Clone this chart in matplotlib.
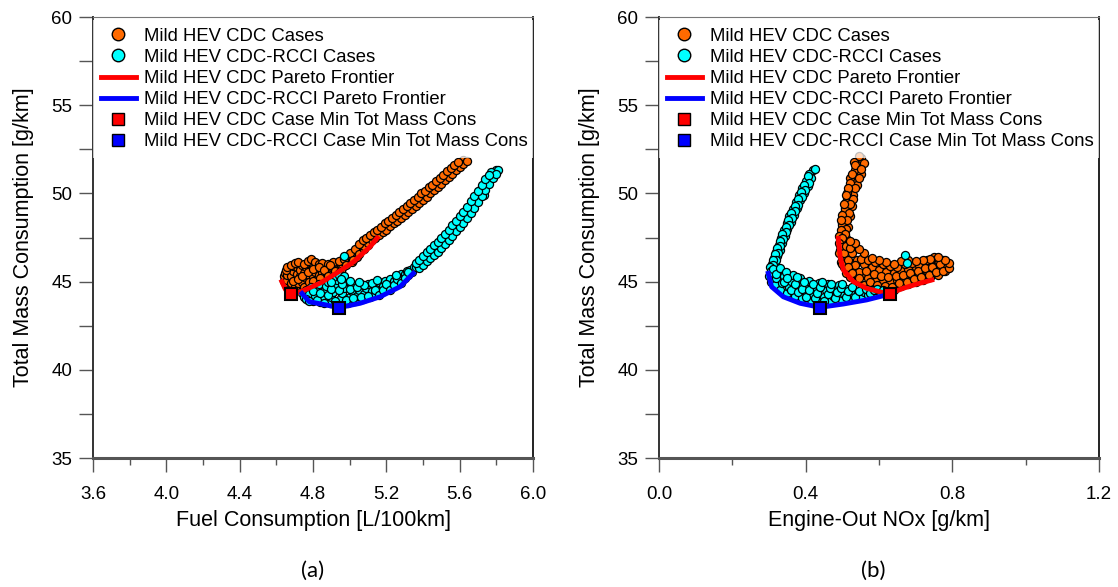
import numpy as np
import matplotlib.pyplot as plt
from matplotlib.lines import Line2D
from matplotlib.ticker import MultipleLocator, FormatStrFormatter

plt.rcParams['font.family'] = ['Liberation Sans', 'DejaVu Sans']

# ---- (a) fuel consumption [L/100km] vs total mass consumption [g/km] ----
cdc_fc_cloud = [
    (4.64, 45.05), (4.64, 45.3), (4.645, 45.5), (4.65, 44.8), (4.66, 45.1), (4.66, 45.4),
    (4.67, 44.6), (4.67, 45.7), (4.68, 44.9), (4.68, 45.3), (4.69, 45.6), (4.69, 45.9),
    (4.70, 44.7), (4.70, 45.1), (4.71, 45.45), (4.71, 45.8), (4.72, 44.9), (4.72, 46.0),
    (4.73, 45.3), (4.73, 45.65), (4.74, 45.0), (4.74, 45.95), (4.75, 45.5), (4.75, 44.7),
    (4.76, 45.2), (4.76, 45.8), (4.77, 46.05), (4.78, 45.4), (4.78, 44.95), (4.79, 45.65),
    (4.79, 46.25), (4.80, 45.3), (4.80, 45.9), (4.81, 45.55), (4.82, 46.0), (4.82, 45.15),
    (4.83, 45.35), (4.84, 45.75), (4.85, 45.5), (4.86, 45.95), (4.86, 45.15), (4.87, 45.6),
    (4.88, 45.85), (4.89, 45.55), (4.90, 46.0), (4.90, 45.45), (4.91, 45.75), (4.92, 46.05),
    (4.93, 45.8), (4.94, 46.0), (4.95, 45.95), (4.96, 46.2), (4.96, 45.75), (4.97, 46.1),
    (4.98, 46.35), (4.99, 46.3), (5.00, 46.5), (5.01, 46.45), (5.02, 46.6), (5.03, 46.7),
    (5.04, 46.8), (5.05, 46.9), (5.06, 47.05),
    (4.65, 45.65), (4.66, 45.85), (4.68, 45.95), (4.70, 46.05), (4.72, 46.1), (4.75, 46.0),
    (4.77, 46.15), (4.79, 46.3), (4.81, 46.1), (4.83, 46.0), (4.85, 46.05), (4.88, 46.0),
    (4.91, 46.1), (4.94, 46.15), (4.97, 46.3), (5.00, 46.6), (5.03, 46.85), (4.69, 45.05),
    (4.72, 45.15), (4.74, 45.3), (4.77, 45.55), (4.80, 45.7), (4.83, 45.85), (4.86, 45.65),
    (4.89, 45.95), (4.92, 45.6), (4.95, 45.6), (4.98, 45.95), (5.01, 46.1), (5.04, 46.4),
    (4.80, 45.05), (4.84, 45.2), (4.88, 45.3), (4.94, 45.5), (5.02, 46.2), (5.05, 46.55),
    (5.08, 46.85), (5.10, 47.05),
]
cdc_fc_band = [
    (5.07, 47.1), (5.08, 47.25), (5.09, 47.2), (5.10, 47.4), (5.11, 47.35), (5.12, 47.55),
    (5.13, 47.5), (5.14, 47.7), (5.15, 47.65), (5.16, 47.85), (5.17, 47.8), (5.18, 48.0),
    (5.19, 47.95), (5.20, 48.15), (5.21, 48.1), (5.22, 48.3), (5.23, 48.3), (5.24, 48.5),
    (5.25, 48.45), (5.26, 48.65), (5.27, 48.6), (5.28, 48.8), (5.29, 48.8), (5.30, 48.95),
    (5.31, 49.0), (5.32, 49.1), (5.33, 49.2), (5.34, 49.3), (5.35, 49.35), (5.36, 49.5),
    (5.37, 49.55), (5.38, 49.65), (5.39, 49.75), (5.40, 49.85), (5.41, 49.95), (5.42, 50.05),
    (5.43, 50.15), (5.44, 50.25), (5.45, 50.35), (5.46, 50.45), (5.47, 50.55), (5.48, 50.65),
    (5.49, 50.75), (5.50, 50.8), (5.51, 50.95), (5.52, 51.0), (5.53, 51.1), (5.54, 51.2),
    (5.55, 51.25), (5.56, 51.4), (5.57, 51.45), (5.58, 51.55), (5.59, 51.65), (5.60, 51.7),
    (5.61, 51.85), (5.62, 51.9),
    (5.08, 47.0), (5.10, 47.2), (5.12, 47.35), (5.14, 47.5), (5.16, 47.65), (5.18, 47.8),
    (5.20, 47.95), (5.22, 48.15), (5.24, 48.3), (5.26, 48.45), (5.28, 48.6), (5.30, 48.8),
    (5.32, 48.95), (5.34, 49.1), (5.36, 49.3), (5.38, 49.45), (5.40, 49.65), (5.42, 49.8),
    (5.44, 50.0), (5.46, 50.2), (5.48, 50.35), (5.50, 50.55), (5.52, 50.75), (5.54, 50.95),
    (5.56, 51.1), (5.58, 51.3), (5.60, 51.5), (5.62, 51.65), (5.64, 51.85),
    (5.05, 47.15), (5.07, 47.35), (5.09, 47.5), (5.11, 47.65), (5.13, 47.8), (5.15, 47.95),
    (5.17, 48.1), (5.19, 48.3), (5.21, 48.45), (5.23, 48.6), (5.25, 48.8), (5.27, 48.95),
    (5.29, 49.1), (5.31, 49.3), (5.33, 49.45), (5.35, 49.65), (5.37, 49.8), (5.39, 50.0),
    (5.41, 50.15), (5.43, 50.35), (5.45, 50.5), (5.47, 50.7), (5.49, 50.9), (5.51, 51.05),
    (5.53, 51.25), (5.55, 51.45), (5.57, 51.6), (5.59, 51.8),
]
rcci_fc_cloud = [
    (4.74, 44.35), (4.75, 44.1), (4.76, 44.5), (4.77, 43.95), (4.78, 44.3), (4.79, 44.7),
    (4.80, 43.9), (4.81, 44.2), (4.82, 44.55), (4.83, 44.85), (4.84, 43.85), (4.85, 44.15),
    (4.86, 44.45), (4.87, 44.75), (4.88, 45.0), (4.89, 43.8), (4.90, 44.1), (4.91, 44.4),
    (4.92, 44.7), (4.93, 45.1), (4.94, 43.75), (4.95, 44.05), (4.96, 44.35), (4.97, 44.65),
    (4.98, 45.05), (4.99, 43.8), (5.00, 44.15), (5.01, 44.45), (5.02, 44.8), (5.03, 43.9),
    (5.04, 44.2), (5.05, 44.55), (5.06, 44.85), (5.07, 44.0), (5.08, 44.3), (5.09, 44.65),
    (5.10, 44.85), (5.11, 44.15), (5.12, 44.45), (5.13, 44.8), (5.14, 44.3), (5.15, 44.6),
    (5.16, 44.95), (5.17, 44.4), (5.18, 44.75), (5.19, 45.05), (5.20, 44.6), (5.21, 44.9),
    (5.22, 45.15), (5.23, 44.75), (5.24, 45.05), (5.25, 45.3), (5.26, 44.95), (5.27, 45.25),
    (5.28, 45.45), (5.29, 45.15), (5.30, 45.45), (5.31, 45.6), (5.32, 45.35), (5.33, 45.65),
    (5.34, 45.55), (5.35, 45.8), (4.91, 45.25), (4.94, 45.35), (4.97, 45.3), (4.97, 46.45),
    (4.76, 44.0), (4.78, 43.9), (4.80, 44.45), (4.82, 43.95), (4.84, 44.35), (4.86, 43.8),
    (4.88, 44.25), (4.90, 44.6), (4.92, 43.9), (4.94, 44.5), (4.96, 44.85), (4.98, 43.95),
    (5.00, 44.6), (5.02, 44.05), (5.04, 44.7), (5.06, 44.1), (5.08, 44.8), (5.10, 44.2),
    (5.12, 44.9), (5.14, 44.5), (5.16, 44.25), (5.18, 44.55), (5.20, 44.85), (5.22, 44.5),
    (5.24, 44.8), (5.26, 45.15), (5.28, 44.9), (5.30, 45.2), (5.32, 45.55), (5.05, 45.0),
    (5.00, 45.05), (4.95, 45.15), (4.90, 44.95), (5.15, 45.1), (5.25, 45.4),
]
rcci_fc_band = [
    (5.36, 45.85), (5.37, 45.95), (5.38, 45.9), (5.39, 46.1), (5.40, 46.05), (5.41, 46.25),
    (5.42, 46.3), (5.43, 46.4), (5.44, 46.5), (5.45, 46.6), (5.46, 46.65), (5.47, 46.8),
    (5.48, 46.85), (5.49, 47.0), (5.50, 47.05), (5.51, 47.2), (5.52, 47.3), (5.53, 47.4),
    (5.54, 47.5), (5.55, 47.65), (5.56, 47.75), (5.57, 47.85), (5.58, 48.0), (5.59, 48.1),
    (5.60, 48.25), (5.61, 48.35), (5.62, 48.5), (5.63, 48.6), (5.64, 48.75), (5.65, 48.9),
    (5.66, 49.05), (5.67, 49.2), (5.68, 49.35), (5.69, 49.5), (5.70, 49.7), (5.71, 49.85),
    (5.72, 50.0), (5.73, 50.2), (5.74, 50.4), (5.75, 50.55), (5.76, 50.75), (5.77, 50.9),
    (5.78, 51.05), (5.79, 51.15), (5.80, 51.3), (5.81, 51.35), (5.69, 49.8), (5.71, 50.2),
    (5.74, 50.7), (5.77, 51.2), (5.66, 49.3), (5.73, 49.9),
    (5.38, 45.75), (5.40, 45.95), (5.42, 46.15), (5.44, 46.35), (5.46, 46.5), (5.48, 46.7),
    (5.50, 46.9), (5.52, 47.15), (5.54, 47.35), (5.56, 47.6), (5.58, 47.85), (5.60, 48.1),
    (5.62, 48.35), (5.64, 48.6), (5.66, 48.9), (5.68, 49.2), (5.70, 49.5), (5.72, 49.85),
    (5.74, 50.2), (5.76, 50.55), (5.78, 50.85), (5.80, 51.1),
    (5.36, 46.05), (5.38, 46.25), (5.40, 46.45), (5.42, 46.65), (5.44, 46.85), (5.46, 47.05),
    (5.48, 47.25), (5.50, 47.45), (5.52, 47.7), (5.54, 47.95), (5.56, 48.2), (5.58, 48.45),
    (5.60, 48.7), (5.62, 48.95), (5.64, 49.25), (5.66, 49.55), (5.68, 49.85), (5.70, 50.15),
    (5.72, 50.45), (5.74, 50.8), (5.76, 51.05),
]
cdc_fc_front = [4.63, 4.65, 4.68, 4.73, 4.84, 4.93, 5.02, 5.11, 5.15]
cdc_fc_front_mass = [45.0, 44.55, 44.3, 44.41, 44.92, 45.49, 46.11, 46.96, 47.47]
rcci_fc_front = [4.74, 4.78, 4.875, 4.94, 5.057, 5.166, 5.275, 5.347]
rcci_fc_front_mass = [44.33, 43.86, 43.67, 43.52, 43.77, 44.14, 44.71, 45.47]

# ---- (b) engine-out NOx [g/km] vs total mass consumption [g/km] ----
cdc_nox_band = [
    (0.55, 52.0), (0.545, 51.8), (0.54, 51.6), (0.535, 51.3), (0.53, 51.0), (0.525, 50.7),
    (0.52, 50.4), (0.515, 50.1), (0.512, 49.8), (0.51, 49.5), (0.507, 49.2), (0.505, 48.9),
    (0.503, 48.6), (0.50, 48.3), (0.498, 48.0), (0.497, 47.7), (0.495, 47.4), (0.494, 47.1),
    (0.493, 46.8), (0.56, 51.7), (0.55, 51.1), (0.54, 50.5), (0.53, 49.9), (0.525, 49.3),
    (0.52, 48.7), (0.515, 48.1), (0.51, 47.5), (0.507, 47.0), (0.532, 51.8), (0.522, 50.9),
    (0.513, 50.0), (0.506, 49.1), (0.50, 48.2), (0.495, 47.3),
    (0.545, 52.1), (0.535, 51.6), (0.55, 51.4), (0.527, 51.1), (0.545, 50.9), (0.52, 50.6),
    (0.535, 50.3), (0.515, 50.3), (0.53, 49.7), (0.51, 49.9), (0.52, 49.4), (0.505, 49.4),
    (0.518, 48.9), (0.50, 48.8), (0.512, 48.5), (0.497, 48.5), (0.51, 48.0), (0.495, 47.9),
    (0.508, 47.7), (0.492, 47.6), (0.50, 47.5), (0.49, 47.2), (0.50, 46.95), (0.49, 46.6),
    (0.498, 46.4), (0.496, 46.1), (0.505, 45.8),
]
cdc_nox_cloud = [
    (0.50, 46.0), (0.51, 45.5), (0.52, 45.25), (0.54, 45.0), (0.56, 44.8), (0.58, 44.65),
    (0.60, 44.55), (0.62, 44.5), (0.64, 44.55), (0.66, 44.75), (0.68, 44.85), (0.70, 45.0),
    (0.72, 45.1), (0.74, 45.25), (0.76, 45.35), (0.78, 45.6),
    (0.505, 46.6), (0.515, 46.2), (0.53, 45.7), (0.55, 45.4), (0.57, 45.2), (0.59, 45.05),
    (0.61, 45.0), (0.63, 44.95), (0.65, 45.1), (0.67, 45.2), (0.69, 45.3), (0.71, 45.45),
    (0.73, 45.6), (0.75, 45.7), (0.77, 45.8), (0.785, 45.95),
    (0.51, 47.0), (0.525, 46.6), (0.54, 46.25), (0.56, 46.0), (0.58, 45.8), (0.60, 45.65),
    (0.62, 45.55), (0.64, 45.5), (0.66, 45.6), (0.68, 45.7), (0.70, 45.8), (0.72, 45.95),
    (0.74, 46.1), (0.76, 46.2),
    (0.53, 47.0), (0.55, 46.3), (0.57, 46.2), (0.59, 46.1), (0.61, 46.0), (0.63, 45.9),
    (0.65, 45.85), (0.67, 46.0), (0.69, 46.05), (0.71, 45.95), (0.73, 46.25), (0.75, 46.4),
    (0.775, 46.2),
    (0.52, 46.9), (0.535, 45.95), (0.545, 45.55), (0.565, 45.6), (0.585, 45.45), (0.605, 45.3),
    (0.625, 45.25), (0.645, 45.3), (0.665, 45.4), (0.685, 45.5), (0.705, 45.6), (0.725, 45.75),
    (0.745, 45.85), (0.765, 46.0),
    (0.515, 45.8), (0.525, 45.5), (0.545, 45.2), (0.575, 45.0), (0.595, 44.8), (0.615, 44.75),
    (0.635, 44.7), (0.655, 44.9), (0.675, 45.0), (0.695, 45.15), (0.715, 45.25), (0.735, 45.4),
    (0.755, 45.55), (0.775, 45.6), (0.79, 45.75), (0.79, 46.05), (0.78, 46.25), (0.76, 46.4),
    (0.74, 46.3), (0.72, 46.2), (0.70, 46.15), (0.68, 46.2), (0.66, 46.15), (0.64, 46.0),
    (0.62, 46.1), (0.60, 46.2), (0.58, 46.35), (0.56, 46.6), (0.545, 46.85), (0.535, 47.2),
    (0.52, 47.3),
]
rcci_nox_band = [
    (0.42, 51.3), (0.41, 51.1), (0.415, 50.9), (0.40, 50.7), (0.405, 50.4), (0.39, 50.3),
    (0.395, 50.0), (0.383, 49.9), (0.385, 49.6), (0.373, 49.5), (0.376, 49.2), (0.365, 49.1),
    (0.367, 48.8), (0.355, 48.7), (0.36, 48.4), (0.348, 48.3), (0.35, 48.0), (0.34, 47.9),
    (0.343, 47.6), (0.333, 47.5), (0.336, 47.2), (0.327, 47.1), (0.33, 46.8), (0.32, 46.7),
    (0.323, 46.45), (0.314, 46.35), (0.317, 46.1), (0.308, 46.0), (0.312, 45.8),
    (0.425, 51.4), (0.405, 51.0), (0.41, 50.6), (0.395, 50.5), (0.398, 50.2), (0.388, 50.1),
    (0.39, 49.8), (0.378, 49.7), (0.38, 49.35), (0.37, 49.3), (0.37, 49.0), (0.36, 48.9),
    (0.362, 48.6), (0.352, 48.5), (0.355, 48.2), (0.345, 48.1), (0.345, 47.8), (0.336, 47.7),
    (0.338, 47.4), (0.33, 47.3), (0.33, 47.0), (0.323, 46.9), (0.325, 46.6), (0.317, 46.55),
    (0.318, 46.25), (0.31, 46.2), (0.312, 45.95), (0.304, 45.8), (0.306, 45.6),
]
rcci_nox_cloud = [
    (0.30, 45.3), (0.305, 45.0), (0.31, 45.5), (0.315, 44.8), (0.32, 45.2), (0.325, 45.6),
    (0.33, 44.55), (0.335, 44.9), (0.34, 45.3), (0.35, 44.35), (0.355, 44.7), (0.36, 45.05),
    (0.365, 45.35), (0.37, 44.2), (0.375, 44.55), (0.38, 44.9), (0.385, 45.2), (0.39, 44.05),
    (0.40, 44.4), (0.405, 44.75), (0.41, 45.05), (0.415, 43.95), (0.42, 44.25), (0.43, 44.6),
    (0.435, 44.9), (0.44, 43.85), (0.45, 44.15), (0.455, 44.5), (0.46, 44.85), (0.47, 43.9),
    (0.475, 44.2), (0.48, 44.55), (0.49, 44.8), (0.50, 43.95), (0.505, 44.3), (0.51, 44.6),
    (0.52, 44.05), (0.53, 44.35), (0.54, 44.6), (0.55, 44.15), (0.56, 44.4), (0.57, 44.25),
    (0.58, 44.5), (0.59, 44.35), (0.60, 44.45), (0.672, 46.5), (0.675, 46.05),
    (0.31, 45.7), (0.32, 45.45), (0.33, 45.75), (0.34, 45.0), (0.345, 45.55), (0.35, 45.2),
    (0.36, 44.55), (0.37, 44.85), (0.375, 45.25), (0.38, 44.4), (0.39, 44.6), (0.395, 45.0),
    (0.40, 44.15), (0.41, 44.55), (0.42, 44.85), (0.425, 44.05), (0.43, 44.35), (0.44, 44.7),
    (0.445, 44.95), (0.45, 43.9), (0.46, 44.3), (0.465, 44.65), (0.47, 44.85), (0.48, 44.05),
    (0.485, 44.4), (0.495, 44.65), (0.50, 44.85), (0.51, 44.1), (0.515, 44.45), (0.525, 44.7),
    (0.535, 44.15), (0.545, 44.45), (0.565, 44.6), (0.575, 44.35), (0.585, 44.55), (0.595, 44.6),
    (0.61, 44.5),
]
cdc_nox_front = [0.489, 0.494, 0.503, 0.530, 0.566, 0.612, 0.630, 0.666, 0.703, 0.744]
cdc_nox_front_mass = [47.45, 46.41, 45.66, 45.0, 44.62, 44.37, 44.33, 44.62, 44.86, 45.09]
rcci_nox_front = [0.298, 0.307, 0.339, 0.385, 0.439, 0.503, 0.566, 0.612]
rcci_nox_front_mass = [45.47, 44.71, 44.14, 43.77, 43.54, 43.73, 43.96, 44.2]

# minimum total mass consumption cases: (fuel, nox, mass)
cdc_min = (4.68, 0.630, 44.30)
rcci_min = (4.942, 0.439, 43.52)

labels = ['Mild HEV CDC Cases', 'Mild HEV CDC-RCCI Cases',
          'Mild HEV CDC Pareto Frontier', 'Mild HEV CDC-RCCI Pareto Frontier',
          'Mild HEV CDC Case Min Tot Mass Cons', 'Mild HEV CDC-RCCI Case Min Tot Mass Cons']

ORANGE = '#ff6a00'
CYAN = '#00ffff'

W, H = 1118, 587
fig = plt.figure(figsize=(W / 100, H / 100), dpi=100)
ax1 = fig.add_axes([93 / W, 1 - 458 / H, 440 / W, 441 / H])
ax2 = fig.add_axes([659 / W, 1 - 458 / H, 440 / W, 441 / H])


def draw(ax, cdc, rcci, cf, cfm, rf, rfm, cmin, rmin):
    cdc = np.array(cdc)
    rcci = np.array(rcci)
    ax.scatter(cdc[:, 0], cdc[:, 1], s=34, c=ORANGE, edgecolors='black', linewidths=0.9, zorder=3)
    ax.scatter(rcci[:, 0], rcci[:, 1], s=34, c=CYAN, edgecolors='black', linewidths=0.9, zorder=3)
    ax.plot(cf, cfm, color='red', lw=3.5, zorder=4)
    ax.plot(rf, rfm, color='blue', lw=3.5, zorder=4)
    ax.plot(cmin[0], cmin[1], 's', ms=8.5, mfc='red', mec='black', mew=1.5, zorder=5)
    ax.plot(rmin[0], rmin[1], 's', ms=8.5, mfc='blue', mec='black', mew=1.5, zorder=5)


def style(ax, xlo, xhi, xmajor, xlabel):
    ax.set_xlim(xlo, xhi)
    ax.set_ylim(35, 60)
    ax.xaxis.set_major_locator(MultipleLocator(xmajor))
    ax.xaxis.set_minor_locator(MultipleLocator(xmajor / 2))
    ax.xaxis.set_major_formatter(FormatStrFormatter('%.1f'))
    ax.yaxis.set_major_locator(MultipleLocator(5))
    ax.yaxis.set_minor_locator(MultipleLocator(2.5))
    ax.tick_params(axis='both', which='both', direction='out', color='#555555', width=1,
                   labelsize=13.5, top=False, right=False)
    ax.tick_params(axis='x', which='major', length=10, pad=10)
    ax.tick_params(axis='x', which='minor', length=5)
    ax.tick_params(axis='y', which='both', length=10, pad=5)
    ax.spines['bottom'].set_color('#555555')
    ax.spines['bottom'].set_linewidth(2.2)
    ax.spines['top'].set_color('#777777')
    ax.spines['left'].set_color('#333333')
    ax.spines['left'].set_linewidth(1.4)
    ax.spines['right'].set_color('#111111')
    ax.spines['right'].set_linewidth(1.3)
    ax.set_xlabel(xlabel, fontsize=15.5)
    ax.set_ylabel('Total Mass Consumption [g/km]', fontsize=15.5)
    ax.xaxis.set_label_coords(0.5, -0.118)
    ax.yaxis.set_label_coords(-0.135, 0.5)

    handles = [
        Line2D([], [], ls='none', marker='o', ms=9, mfc=ORANGE, mec='black', mew=1),
        Line2D([], [], ls='none', marker='o', ms=9, mfc=CYAN, mec='black', mew=1),
        Line2D([], [], color='red', lw=3.5),
        Line2D([], [], color='blue', lw=3.5),
        Line2D([], [], ls='none', marker='s', ms=9, mfc='red', mec='black', mew=1),
        Line2D([], [], ls='none', marker='s', ms=9, mfc='blue', mec='black', mew=1),
    ]
    leg = ax.legend(handles, labels, loc='upper left', bbox_to_anchor=(0, 0, 1, 0.993), mode='expand',
                    fontsize=13.3, labelspacing=0.22, handlelength=1.9, handletextpad=0.45,
                    borderaxespad=0, borderpad=0.42, fancybox=False, frameon=True)
    leg.get_frame().set_facecolor('white')
    leg.get_frame().set_edgecolor('none')
    leg.get_frame().set_alpha(0.75)


draw(ax1, cdc_fc_cloud + cdc_fc_band, rcci_fc_cloud + rcci_fc_band,
     cdc_fc_front, cdc_fc_front_mass, rcci_fc_front, rcci_fc_front_mass,
     (cdc_min[0], cdc_min[2]), (rcci_min[0], rcci_min[2]))
draw(ax2, cdc_nox_band + cdc_nox_cloud, rcci_nox_band + rcci_nox_cloud,
     cdc_nox_front, cdc_nox_front_mass, rcci_nox_front, rcci_nox_front_mass,
     (cdc_min[1], cdc_min[2]), (rcci_min[1], rcci_min[2]))
style(ax1, 3.6, 6.0, 0.4, 'Fuel Consumption [L/100km]')
style(ax2, 0.0, 1.2, 0.4, 'Engine-Out NOx [g/km]')

fig.text(313 / W, 1 - 571 / H, '(a)', ha='center', va='center', fontsize=16, family='Lato')
fig.text(873 / W, 1 - 571 / H, '(b)', ha='center', va='center', fontsize=16, family='Lato')

fig.savefig('out.png', dpi=100)
